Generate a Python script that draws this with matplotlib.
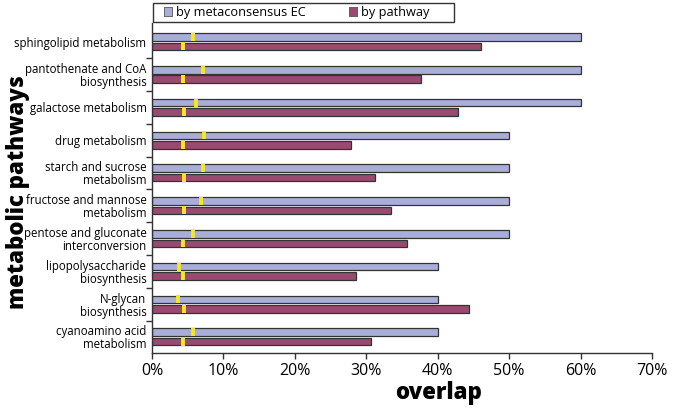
import matplotlib
matplotlib.use("Agg")
import matplotlib.pyplot as plt
import numpy as np
from matplotlib.patches import Patch, Rectangle

categories = [
    "sphingolipid metabolism",
    "pantothenate and CoA\nbiosynthesis",
    "galactose metabolism",
    "drug metabolism",
    "starch and sucrose\nmetabolism",
    "fructose and mannose\nmetabolism",
    "pentose and gluconate\ninterconversion",
    "lipopolysaccharide\nbiosynthesis",
    "N-glycan\nbiosynthesis",
    "cyanoamino acid\nmetabolism",
]
by_ec = [60, 60, 60, 50, 50, 50, 50, 40, 40, 40]
by_pathway = [46.1, 37.6, 42.9, 27.8, 31.2, 33.4, 35.7, 28.6, 44.4, 30.7]
random_ec = [5.7, 7.1, 6.1, 7.3, 7.1, 6.8, 5.7, 3.8, 3.7, 5.7]
random_pathway = [4.3, 4.4, 4.5, 4.4, 4.5, 4.5, 4.4, 4.4, 4.5, 4.4]
xticks = [0, 10, 20, 30, 40, 50, 60, 70]
xticklabels = ["0%", "10%", "20%", "30%", "40%", "50%", "60%", "70%"]

plt.rcParams['font.family'] = ['Open Sans', 'DejaVu Sans']

blue = "#a9aed8"
purple = "#984a70"
yellow = "#f7e81a"

fig = plt.figure(figsize=(6.85, 4.09), dpi=100)
ax = fig.add_axes([152/685, 1 - 352.7/409, 500/685, (352.7 - 23)/409])

y = np.arange(len(categories))
off = 0.145
h = 0.23
ax.barh(y - off, by_ec, height=h, color=blue, edgecolor="#333333", linewidth=0.9, zorder=2)
ax.barh(y + off, by_pathway, height=h, color=purple, edgecolor="#333333", linewidth=0.9, zorder=2)
ax.plot(random_ec, y - off, linestyle="none", marker="|", markersize=5.2, mew=2.8, color=yellow, zorder=3)
ax.plot(random_pathway, y + off, linestyle="none", marker="|", markersize=5.2, mew=2.8, color=yellow, zorder=3)

ax.set_xlim(0, 70)
ax.set_ylim(9.48, -0.57)
ax.set_xticks(xticks)
ax.set_xticklabels(xticklabels, fontsize=11.5)
ax.set_yticks(y)
ax.set_yticklabels(categories, fontsize=8.3, linespacing=1.0)
for t in ax.get_yticklabels():
    t.set_multialignment("right")
ax.tick_params(axis="y", which="major", length=0, pad=4)
ax.set_yticks(np.arange(len(categories) - 1) + 0.5, minor=True)
ax.tick_params(axis="y", which="minor", length=4, width=1, color="#333333")
ax.tick_params(axis="x", which="major", length=4, width=1, color="#333333", pad=3.5)
for s in ["top", "right"]:
    ax.spines[s].set_visible(False)
for s in ["left", "bottom"]:
    ax.spines[s].set_color("#333333")
    ax.spines[s].set_linewidth(1)

# legend frame
fig.add_artist(Rectangle((153/685, 1 - 22/409), 301/685, 19/409, transform=fig.transFigure,
                         facecolor="white", edgecolor="#333333", linewidth=1, zorder=5))
handles = [Patch(facecolor=blue, edgecolor="#555555", linewidth=0.6),
           Patch(facecolor=purple, edgecolor="#555555", linewidth=0.6)]
leg = fig.legend(handles, ["by metaconsensus EC", "by pathway"], ncol=2,
                 loc="center left", bbox_to_anchor=(164/685, 1 - 12.5/409),
                 frameon=False, fontsize=9.2,
                 handlelength=0.6, handleheight=0.6, handletextpad=0.35,
                 borderpad=0, borderaxespad=0, columnspacing=3.4)
leg.set_zorder(6)

fig.text(439/685, 1 - 393/409, "overlap", fontsize=16, fontweight=800,
         ha="center", va="center")
fig.text(18/685, 1 - 192/409, "metabolic pathways", fontsize=16, fontweight=800,
         ha="center", va="center", rotation=90)

fig.savefig("out.png", dpi=100)
